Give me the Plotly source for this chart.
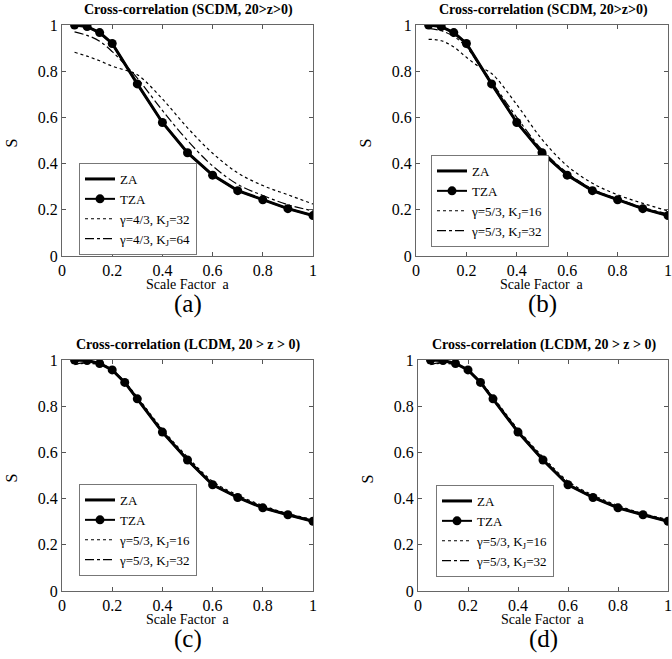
import plotly.graph_objects as go


# ==========================================================
# Data
# ==========================================================

a_scdm = [0.05, 0.1, 0.15, 0.2, 0.3, 0.4, 0.5, 0.6, 0.7, 0.8, 0.9, 1.0]
za_scdm = [1.0, 0.993, 0.967, 0.92, 0.745, 0.578, 0.447, 0.35, 0.283, 0.243, 0.205, 0.175]
tza_scdm = [1.0, 0.993, 0.967, 0.92, 0.745, 0.578, 0.447, 0.35, 0.283, 0.243, 0.205, 0.175]

a_gas = [0.05, 0.1, 0.15, 0.2, 0.25, 0.3, 0.4, 0.5, 0.6, 0.7, 0.8, 0.9, 1.0]
g43_k32 = [0.882, 0.865, 0.845, 0.822, 0.805, 0.785, 0.68, 0.555, 0.445, 0.36, 0.305, 0.265, 0.225]
g43_k64 = [0.97, 0.955, 0.93, 0.885, 0.83, 0.77, 0.63, 0.5, 0.39, 0.31, 0.262, 0.222, 0.195]
g53_k16_scdm = [0.938, 0.932, 0.905, 0.86, 0.82, 0.79, 0.655, 0.505, 0.39, 0.315, 0.265, 0.228, 0.195]
g53_k32_scdm = [0.985, 0.975, 0.95, 0.905, 0.83, 0.755, 0.6, 0.46, 0.36, 0.29, 0.247, 0.21, 0.182]

a_lcdm = [0.05, 0.1, 0.15, 0.2, 0.25, 0.3, 0.4, 0.5, 0.6, 0.7, 0.8, 0.9, 1.0]
za_lcdm = [1.0, 0.998, 0.985, 0.957, 0.903, 0.832, 0.688, 0.567, 0.46, 0.405, 0.36, 0.33, 0.302]
tza_lcdm = [1.0, 0.998, 0.985, 0.957, 0.903, 0.832, 0.688, 0.567, 0.46, 0.405, 0.36, 0.33, 0.302]
g53_k16_lcdm = [0.982, 0.985, 0.98, 0.955, 0.905, 0.84, 0.7, 0.58, 0.475, 0.415, 0.37, 0.335, 0.31]
g53_k32_lcdm = [0.98, 0.99, 0.985, 0.955, 0.9, 0.835, 0.695, 0.573, 0.467, 0.41, 0.365, 0.333, 0.305]

ticks = [0, 0.2, 0.4, 0.6, 0.8, 1]
tick_text = ["0", "0.2", "0.4", "0.6", "0.8", "1"]

FONT = "Liberation Serif, Times New Roman, serif"
W, H = 672, 659


def px_x(v):
    return v / W


def px_y(v):
    return 1 - v / H


# panel geometry in window pixels
panels = [
    dict(x0=62, x1=313, yt=25, yb=256,
         title="Cross-correlation (SCDM, 20>z>0)", tag="(a)",
         a=a_scdm, za=za_scdm, tza=tza_scdm, ag=a_gas,
         g1=g43_k32, g2=g43_k64,
         n1="γ=4/3, K<sub>J</sub>=32", n2="γ=4/3, K<sub>J</sub>=64",
         lx=79, ly=163),
    dict(x0=416, x1=668, yt=25, yb=256,
         title="Cross-correlation (SCDM, 20>z>0)", tag="(b)",
         a=a_scdm, za=za_scdm, tza=tza_scdm, ag=a_gas,
         g1=g53_k16_scdm, g2=g53_k32_scdm,
         n1="γ=5/3, K<sub>J</sub>=16", n2="γ=5/3, K<sub>J</sub>=32",
         lx=431, ly=155),
    dict(x0=62, x1=313, yt=360, yb=591,
         title="Cross-correlation (LCDM, 20 > z > 0)", tag="(c)",
         a=a_lcdm, za=za_lcdm, tza=tza_lcdm, ag=a_lcdm,
         g1=g53_k16_lcdm, g2=g53_k32_lcdm,
         n1="γ=5/3, K<sub>J</sub>=16", n2="γ=5/3, K<sub>J</sub>=32",
         lx=79, ly=484),
    dict(x0=418, x1=668, yt=360, yb=591,
         title="Cross-correlation (LCDM, 20 > z > 0)", tag="(d)",
         a=a_lcdm, za=za_lcdm, tza=tza_lcdm, ag=a_lcdm,
         g1=g53_k16_lcdm, g2=g53_k32_lcdm,
         n1="γ=5/3, K<sub>J</sub>=16", n2="γ=5/3, K<sub>J</sub>=32",
         lx=436, ly=485),
]


# ==========================================================
# Figure
# ==========================================================

fig = go.Figure()
annotations = []
layout = {}

for i, p in enumerate(panels, start=1):
    sfx = "" if i == 1 else str(i)
    xa, ya = "x" + sfx, "y" + sfx
    leg = "legend" + sfx

    fig.add_trace(go.Scatter(
        x=p["a"], y=p["za"], name="ZA", mode="lines",
        line=dict(color="black", width=3),
        xaxis=xa, yaxis=ya, legend=leg,
    ))
    fig.add_trace(go.Scatter(
        x=p["a"], y=p["tza"], name="TZA", mode="lines+markers",
        line=dict(color="black", width=2),
        marker=dict(color="black", size=9),
        xaxis=xa, yaxis=ya, legend=leg,
    ))
    fig.add_trace(go.Scatter(
        x=p["ag"], y=p["g1"], name=p["n1"], mode="lines",
        line=dict(color="black", width=1.2, dash="dot", shape="spline"),
        xaxis=xa, yaxis=ya, legend=leg,
    ))
    fig.add_trace(go.Scatter(
        x=p["ag"], y=p["g2"], name=p["n2"], mode="lines",
        line=dict(color="black", width=1.2, dash="dashdot", shape="spline"),
        xaxis=xa, yaxis=ya, legend=leg,
    ))

    axis_common = dict(
        range=[0, 1],
        tickvals=ticks,
        ticktext=tick_text,
        ticks="inside",
        ticklen=4,
        tickcolor="#555",
        mirror="ticks",
        showline=True,
        linecolor="#666",
        linewidth=1,
        showgrid=False,
        zeroline=False,
        automargin=False,
        tickfont=dict(family=FONT, size=16, color="black"),
    )

    layout["xaxis" + sfx] = dict(
        axis_common,
        domain=[px_x(p["x0"]), px_x(p["x1"])],
        anchor=ya,
    )
    layout["yaxis" + sfx] = dict(
        axis_common,
        domain=[px_y(p["yb"]), px_y(p["yt"])],
        anchor=xa,
    )
    layout[leg] = dict(
        x=px_x(p["lx"]),
        y=px_y(p["ly"]),
        xanchor="left",
        yanchor="top",
        bgcolor="white",
        bordercolor="#777",
        borderwidth=1,
        font=dict(family=FONT, size=13, color="black"),
        itemwidth=30,
        tracegroupgap=0,
    )

    xc = (p["x0"] + p["x1"]) / 2
    annotations += [
        dict(text="<b>" + p["title"] + "</b>", x=px_x(xc + 1), y=px_y(p["yt"] - 15),
             font=dict(family=FONT, size=14)),
        dict(text="Scale Factor  a", x=px_x(xc), y=px_y(p["yb"] + 28),
             font=dict(family=FONT, size=14)),
        dict(text=p["tag"], x=px_x(xc), y=px_y(p["yb"] + 48),
             font=dict(family=FONT, size=25)),
        dict(text="S", x=px_x(p["x0"] - 51), y=px_y((p["yt"] + p["yb"]) / 2 + 3),
             textangle=-90, font=dict(family=FONT, size=16)),
    ]

for ann in annotations:
    ann.update(xref="paper", yref="paper", showarrow=False,
               xanchor="center", yanchor="middle")
    ann["font"]["color"] = "black"

fig.update_layout(
    **layout,
    annotations=annotations,
    width=W,
    height=H,
    margin=dict(l=0, r=0, t=0, b=0, autoexpand=False),
    paper_bgcolor="white",
    plot_bgcolor="white",
    showlegend=True,
    font=dict(family=FONT, color="black"),
)

# the page body has a default 8px margin; drop it so the figure fills the window
fig.write_html(
    "out.html",
    config={"displayModeBar": False},
    post_script="document.body.style.margin = '0'; document.body.style.overflow = 'hidden';",
)
